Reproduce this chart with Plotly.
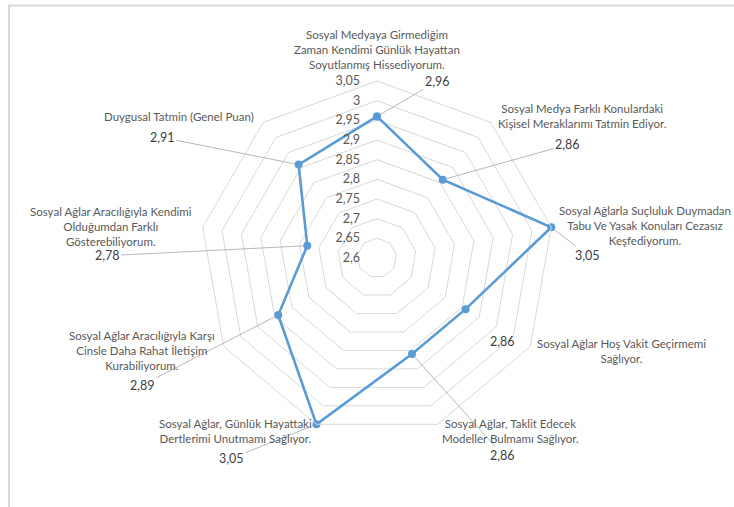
import math
import plotly.graph_objects as go

# ---- data ----
categories = [
    "Sosyal Medyaya Girmediğim Zaman Kendimi Günlük Hayattan Soyutlanmış Hissediyorum.",
    "Sosyal Medya Farklı Konulardaki Kişisel Meraklarımı Tatmin Ediyor.",
    "Sosyal Ağlarla Suçluluk Duymadan Tabu Ve Yasak Konuları Cezasız Keşfediyorum.",
    "Sosyal Ağlar Hoş Vakit Geçirmemi Sağlıyor.",
    "Sosyal Ağlar, Taklit Edecek Modeller Bulmamı Sağlıyor.",
    "Sosyal Ağlar, Günlük Hayattaki Dertlerimi Unutmamı Sağlıyor.",
    "Sosyal Ağlar Aracılığıyla Karşı Cinsle Daha Rahat İletişim Kurabiliyorum.",
    "Sosyal Ağlar Aracılığıyla Kendimi Olduğumdan Farklı Gösterebiliyorum.",
    "Duygusal Tatmin (Genel Puan)",
]
category_labels = [
    "Sosyal Medyaya Girmediğim<br>Zaman Kendimi Günlük Hayattan<br>Soyutlanmış Hissediyorum.",
    "Sosyal Medya Farklı Konulardaki<br>Kişisel Meraklarımı Tatmin Ediyor.",
    "Sosyal Ağlarla Suçluluk Duymadan<br>Tabu Ve Yasak Konuları Cezasız<br>Keşfediyorum.",
    "Sosyal Ağlar Hoş Vakit Geçirmemi<br>Sağlıyor.",
    "Sosyal Ağlar, Taklit Edecek<br>Modeller Bulmamı Sağlıyor.",
    "Sosyal Ağlar, Günlük Hayattaki<br>Dertlerimi Unutmamı Sağlıyor.",
    "Sosyal Ağlar Aracılığıyla Karşı<br>Cinsle Daha Rahat İletişim<br>Kurabiliyorum.",
    "Sosyal Ağlar Aracılığıyla Kendimi<br>Olduğumdan Farklı<br>Gösterebiliyorum.",
    "Duygusal Tatmin (Genel Puan)",
]
values = [2.96, 2.86, 3.05, 2.86, 2.86, 3.05, 2.89, 2.78, 2.91]
radial_ticks = [2.6, 2.65, 2.7, 2.75, 2.8, 2.85, 2.9, 2.95, 3.0, 3.05]
radial_tick_labels = ["2,6", "2,65", "2,7", "2,75", "2,8", "2,85", "2,9", "2,95", "3", "3,05"]

# ---- layout geometry (pixels) ----
W, H = 734, 507
CX, CY, R = 377, 258, 177
r_min, r_max = radial_ticks[0], radial_ticks[-1]

dom_x = [(CX - R) / W, (CX + R) / W]
dom_y = [(H - CY - R) / H, (H - CY + R) / H]

# value label offsets (text centre relative to the data point, pixels)
label_offsets = [(60, -35), (125, -35), (36, 28), (37, 32), (91, 101),
                 (-85, 34), (-136, 70), (-200, 10), (-136, -27)]
# category label offsets (text centre relative to the outer vertex, pixels)
cat_offsets = [(0, -32), (92, -6), (94, -2), (91, 4), (73, 7),
               (-81, 7), (-82, 4), (-92, -1), (-84, -6)]

GRID = "#D9D9D9"
TXT = "#595959"
BLUE = "#5B9BD5"
FONT = "Lato"

fig = go.Figure()
fig.add_trace(go.Scatterpolar(
    r=values + values[:1],
    theta=categories + categories[:1],
    mode="lines+markers",
    line=dict(color=BLUE, width=2.6),
    marker=dict(color=BLUE, size=8),
    showlegend=False,
    hoverinfo="skip",
))

n = len(categories)


def to_px(val, i):
    ang = math.radians(90 - i * 360 / n)
    rp = (val - r_min) / (r_max - r_min) * R
    return CX + rp * math.cos(ang), CY - rp * math.sin(ang)


annotations = []
for i, (v, (dx, dy)) in enumerate(zip(values, label_offsets)):
    px, py = to_px(v, i)
    annotations.append(dict(
        x=px / W, y=1 - py / H, xref="paper", yref="paper",
        text=f"{v:.2f}".replace(".", ","),
        showarrow=True, arrowhead=0, arrowwidth=0.8, arrowcolor="#A6A6A6",
        ax=dx, ay=dy, standoff=4,
        font=dict(family=FONT, size=12.5, color="#404040"),
    ))

for i, (lab, (dx, dy)) in enumerate(zip(category_labels, cat_offsets)):
    vx, vy = to_px(r_max, i)
    annotations.append(dict(
        x=(vx + dx) / W, y=1 - (vy + dy) / H, xref="paper", yref="paper",
        text=lab, showarrow=False, align="center",
        xanchor="center", yanchor="middle",
        font=dict(family=FONT, size=11.5, color=TXT),
    ))

fig.update_layout(
    width=W, height=H,
    margin=dict(l=0, r=0, t=0, b=0),
    paper_bgcolor="white",
    plot_bgcolor="white",
    font=dict(family=FONT, size=11.5, color=TXT),
    polar=dict(
        domain=dict(x=dom_x, y=dom_y),
        bgcolor="white",
        gridshape="linear",
        radialaxis=dict(
            range=[r_min, r_max],
            tickmode="array", tickvals=radial_ticks, ticktext=radial_tick_labels,
            angle=90, side="counterclockwise", tickangle=90,
            showline=False, showgrid=True, gridcolor=GRID, gridwidth=1,
            ticks="outside", ticklen=12, tickcolor="rgba(0,0,0,0)",
            tickfont=dict(family=FONT, size=12.5, color=TXT),
        ),
        angularaxis=dict(
            direction="clockwise", rotation=90,
            categoryarray=categories, categoryorder="array",
            showticklabels=False,
            showgrid=False, showline=True, linecolor=GRID, linewidth=1,
            ticks="",
        ),
    ),
    annotations=annotations,
    shapes=[dict(type="rect", xref="paper", yref="paper",
                 x0=9 / W, x1=1.02, y0=-0.02, y1=1 - 5.5 / H,
                 line=dict(color=GRID, width=2))],
)

fig.write_html("out.html")
